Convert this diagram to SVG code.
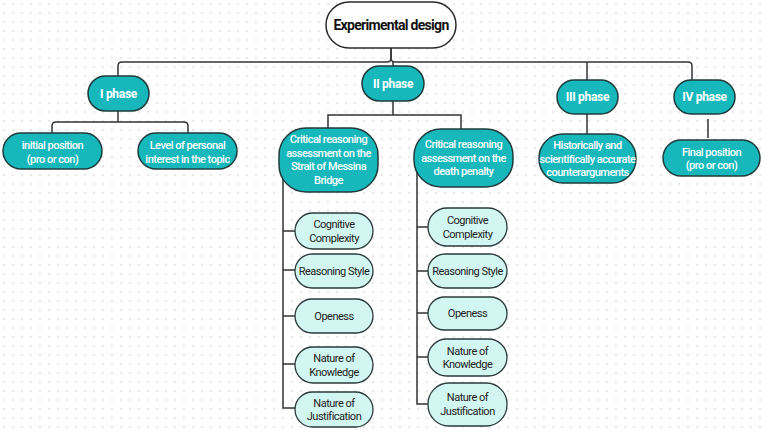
<svg xmlns="http://www.w3.org/2000/svg" width="767" height="433" viewBox="0 0 767 433">
<defs>
<pattern id="dots" x="0" y="0" width="9" height="9" patternUnits="userSpaceOnUse">
<circle cx="4" cy="4" r="0.9" fill="#dedede"/>
</pattern>
<style>
.teal{fill:#17b8bc;stroke:#1f3b3c;stroke-width:1.5}
.leaf{fill:#d2f6f1;stroke:#2a3a3a;stroke-width:1.3}
.root{fill:#ffffff;stroke:#2a2a2a;stroke-width:1.5}
.conn path{fill:none;stroke:#333333;stroke-width:1.5}
text{font-family:Roboto,"Liberation Sans",sans-serif;text-anchor:middle}
.tw{fill:#ffffff;font-size:11px;font-weight:500;letter-spacing:-0.5px}
.tp{fill:#ffffff;font-size:12px;font-weight:700;letter-spacing:-0.3px}
.tl{fill:#222222;font-size:11px;letter-spacing:-0.5px}
.tr{fill:#111111;font-size:14px;font-weight:700;letter-spacing:-0.7px}
</style>
</defs>
<rect width="767" height="433" fill="#ffffff"/>
<rect width="767" height="433" fill="url(#dots)"/>

<g id="connectors" class="conn">
<path d="M391,48 V58 Q391,62 387,62 H122 Q118,62 118,66 V76"/>
<path d="M391,48 V58 Q391,62 395,62 H688 Q692,62 692,66 V80"/>
<path d="M393,62 V66"/>
<path d="M587,62 V80"/>
<path d="M118,111 V122"/>
<path d="M52,133 V126 Q52,122 56,122 H184 Q188,122 188,126 V133"/>
<path d="M393,101 V115"/>
<path d="M328,128 V115 H461 V129"/>
<path d="M587,114 V134"/>
<path d="M708,119 V138"/>
<path d="M283,170 V408 H295 M283,231 H295 M283,270 H295 M283,316 H295 M283,364 H295"/>
<path d="M417,160 V404 H428 M417,227 H428 M417,271 H428 M417,313 H428 M417,357 H428"/>
</g>

<g id="root">
<rect class="root" x="326" y="2" width="130" height="46" rx="23"/>
<text class="tr" x="391" y="30">Experimental design</text>
</g>

<g id="phase1">
<rect class="teal" x="88" y="76" width="61" height="35" rx="17.5"/>
<text class="tp" x="118.5" y="97.5">I phase</text>
</g>
<g id="phase2">
<rect class="teal" x="362" y="66" width="62" height="35" rx="17.5"/>
<text class="tp" x="393" y="87.5">II phase</text>
</g>
<g id="phase3">
<rect class="teal" x="557" y="80" width="61" height="34" rx="17"/>
<text class="tp" x="587.5" y="101">III phase</text>
</g>
<g id="phase4">
<rect class="teal" x="674" y="80" width="61" height="34" rx="17"/>
<text class="tp" x="704.5" y="101">IV phase</text>
</g>

<g id="initial-position">
<rect class="teal" x="3" y="133" width="99" height="36" rx="18"/>
<text class="tw" x="52.5" y="149">initial position</text>
<text class="tw" x="52.5" y="162.5">(pro or con)</text>
</g>
<g id="personal-interest">
<rect class="teal" x="138" y="133" width="99" height="36" rx="18"/>
<text class="tw" x="187.5" y="149">Level of personal</text>
<text class="tw" x="187.5" y="162.5">interest in the topic</text>
</g>

<g id="messina">
<rect class="teal" x="279" y="128" width="99" height="64" rx="27"/>
<text class="tw" x="328.5" y="143">Critical reasoning</text>
<text class="tw" x="328.5" y="156.5">assessment on the</text>
<text class="tw" x="328.5" y="170">Strait of Messina</text>
<text class="tw" x="328.5" y="183.5">Bridge</text>
</g>
<g id="death-penalty">
<rect class="teal" x="414" y="129" width="99" height="58" rx="27"/>
<text class="tw" x="463.5" y="148">Critical reasoning</text>
<text class="tw" x="463.5" y="161.5">assessment on the</text>
<text class="tw" x="463.5" y="175">death penalty</text>
</g>

<g id="counterarguments">
<rect class="teal" x="539" y="134" width="97" height="49" rx="24"/>
<text class="tw" x="587.5" y="149">Historically and</text>
<text class="tw" x="587.5" y="162.5">scientifically accurate</text>
<text class="tw" x="587.5" y="176">counterarguments</text>
</g>
<g id="final-position">
<rect class="teal" x="663" y="140" width="97" height="36" rx="18"/>
<text class="tw" x="711.5" y="155.5">Final position</text>
<text class="tw" x="711.5" y="169">(pro or con)</text>
</g>

<g id="l-cognitive">
<rect class="leaf" x="295" y="213" width="78" height="36" rx="18"/>
<text class="tl" x="334" y="228">Cognitive</text>
<text class="tl" x="334" y="241.5">Complexity</text>
</g>
<g id="l-reasoning">
<rect class="leaf" x="295" y="254" width="78" height="34" rx="17"/>
<text class="tl" x="334" y="274.5">Reasoning Style</text>
</g>
<g id="l-openess">
<rect class="leaf" x="295" y="299" width="78" height="34" rx="17"/>
<text class="tl" x="334" y="319.5">Openess</text>
</g>
<g id="l-knowledge">
<rect class="leaf" x="295" y="347" width="78" height="36" rx="18"/>
<text class="tl" x="334" y="362">Nature of</text>
<text class="tl" x="334" y="375.5">Knowledge</text>
</g>
<g id="l-justification">
<rect class="leaf" x="295" y="392" width="78" height="35" rx="17.5"/>
<text class="tl" x="334" y="406.5">Nature of</text>
<text class="tl" x="334" y="420">Justification</text>
</g>

<g id="r-cognitive">
<rect class="leaf" x="428" y="208" width="79" height="38" rx="19"/>
<text class="tl" x="467.5" y="224">Cognitive</text>
<text class="tl" x="467.5" y="237.5">Complexity</text>
</g>
<g id="r-reasoning">
<rect class="leaf" x="428" y="254" width="79" height="34" rx="17"/>
<text class="tl" x="467.5" y="274.5">Reasoning Style</text>
</g>
<g id="r-openess">
<rect class="leaf" x="428" y="297" width="79" height="33" rx="16.5"/>
<text class="tl" x="467.5" y="317">Openess</text>
</g>
<g id="r-knowledge">
<rect class="leaf" x="428" y="339" width="79" height="37" rx="18.5"/>
<text class="tl" x="467.5" y="354.5">Nature of</text>
<text class="tl" x="467.5" y="368">Knowledge</text>
</g>
<g id="r-justification">
<rect class="leaf" x="428" y="383" width="79" height="43" rx="21"/>
<text class="tl" x="467.5" y="401">Nature of</text>
<text class="tl" x="467.5" y="414.5">Justification</text>
</g>
</svg>
